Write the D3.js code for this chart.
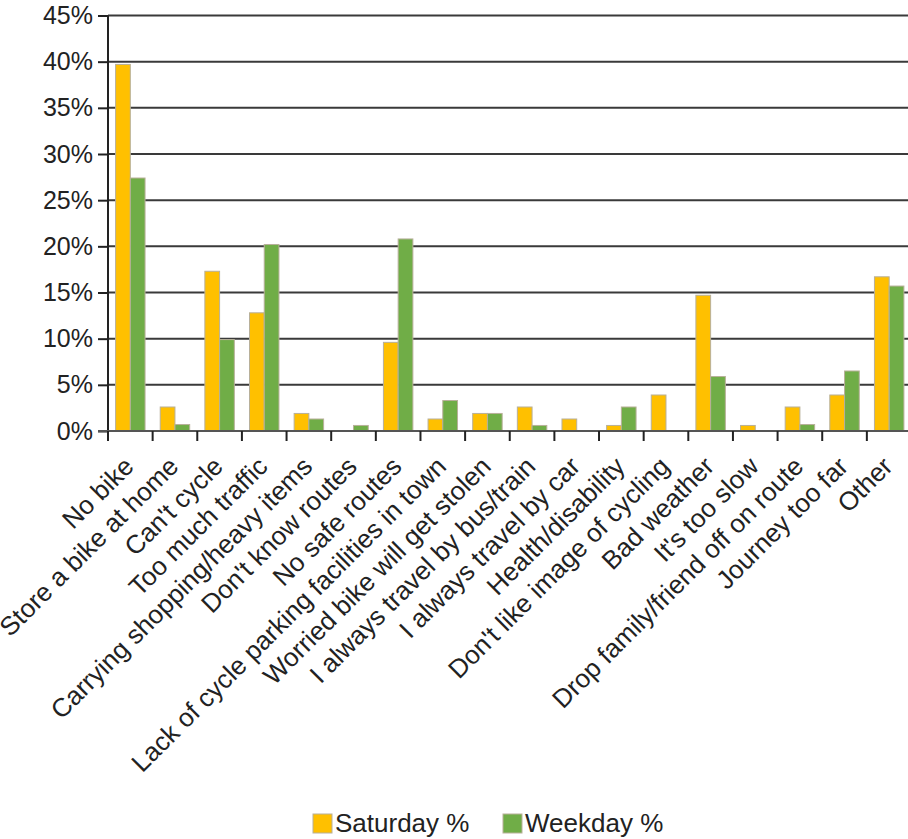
<!DOCTYPE html>
<html><head><meta charset="utf-8">
<script src="https://cdn.jsdelivr.net/npm/d3@7"></script>
<style>
html,body{margin:0;padding:0;background:#fff;}
svg{display:block;font-family:"Liberation Sans",Arial,sans-serif;}
</style></head>
<body>
<svg id="chart" width="908" height="839"></svg>
<script>
const categories = ["No bike","Store a bike at home","Can't cycle","Too much traffic","Carrying shopping/heavy items","Don't know routes","No safe routes","Lack of cycle parking facilities in town","Worried bike will get stolen","I always travel by bus/train","I always travel by car","Health/disability","Don't like image of cycling","Bad weather","It's too slow","Drop family/friend off on route","Journey too far","Other"];
const seriesNames = ["Saturday %","Weekday %"];
const saturday = [39.7,2.6,17.3,12.8,1.9,0,9.6,1.3,1.9,2.6,1.3,0.6,3.9,14.7,0.6,2.6,3.9,16.7];
const weekday  = [27.4,0.7,9.9,20.2,1.3,0.6,20.8,3.3,1.9,0.6,0,2.6,0,5.9,0,0.7,6.5,15.7];
const yTicks = [0,5,10,15,20,25,30,35,40,45];
const colors = ["#FFC000","#70AD47"];

const svg = d3.select("#chart");
const mLeft = 108, mRight = 911.5, mTop = 15.5, mBottom = 431;

const x = d3.scaleBand().domain(categories).range([mLeft, mRight]).padding(0);
const xi = d3.scaleBand().domain(seriesNames).range([x.bandwidth()*0.17, x.bandwidth()*0.83]).padding(0);
const y = d3.scaleLinear().domain([0,45]).range([mBottom, mTop]);

// gridlines
svg.append("g").selectAll("line").data(yTicks.filter(d=>d>0)).join("line")
  .attr("x1", mLeft).attr("x2", 908).attr("y1", d=>y(d)).attr("y2", d=>y(d))
  .attr("stroke","#3a3a3a").attr("stroke-width",2);

// bars
const data = categories.map((c,i)=>({c, vals:[saturday[i], weekday[i]]}));
const g = svg.append("g").selectAll("g").data(data).join("g")
  .attr("transform", d=>`translate(${x(d.c)},0)`);
g.selectAll("rect").data(d=>d.vals.map((v,j)=>({s:seriesNames[j], v, j})).filter(e=>e.v>0)).join("rect")
  .attr("x", e=>xi(e.s)).attr("width", xi.bandwidth())
  .attr("y", e=>y(e.v)).attr("height", e=>mBottom - y(e.v))
  .attr("fill", e=>colors[e.j]).attr("stroke","#b8b09a").attr("stroke-width",1);

// y axis
const yAxis = d3.axisLeft(y).tickValues(yTicks).tickFormat(d=>d+"%").tickSize(10).tickPadding(5);
const ya = svg.append("g").attr("transform",`translate(${mLeft},0)`).call(yAxis);
ya.select(".domain").attr("stroke","#222").attr("stroke-width",2).attr("d",`M0,${mTop}V${mBottom}`);
ya.selectAll(".tick line").attr("stroke","#222").attr("stroke-width",2);
ya.selectAll(".tick text").attr("font-size",25).attr("fill","#222").attr("font-family","Liberation Sans, Arial, sans-serif");

// x axis
const xAxis = d3.axisBottom(x).tickSize(0).tickFormat("");
const xa = svg.append("g").attr("transform",`translate(0,${mBottom})`).call(xAxis);
xa.select(".domain").attr("stroke","#555").attr("stroke-width",2).attr("d",`M${mLeft-10},0H908`);
xa.selectAll(".tick").remove();
// boundary ticks
const bounds = categories.map(c=>x(c));
svg.append("g").selectAll("line").data(bounds).join("line")
  .attr("x1",d=>d).attr("x2",d=>d).attr("y1",mBottom).attr("y2",mBottom+10)
  .attr("stroke","#222").attr("stroke-width",2);

// category labels
svg.append("g").selectAll("text").data(categories).join("text")
  .attr("transform", d=>`translate(${x(d)+x.bandwidth()/2+5},${mBottom+37}) rotate(-45)`)
  .attr("text-anchor","end").attr("font-size",26).attr("fill","#222")
  .text(d=>d);

// legend
const leg = svg.append("g");
const legX = [313, 503];
seriesNames.forEach((s,i)=>{
  leg.append("rect").attr("x",legX[i]).attr("y",814).attr("width",19).attr("height",19)
    .attr("fill",colors[i]).attr("stroke","#b8b09a");
  leg.append("text").attr("x",legX[i]+22).attr("y",832).attr("font-size",26).attr("fill","#222").text(s);
});
</script>
</body></html>
